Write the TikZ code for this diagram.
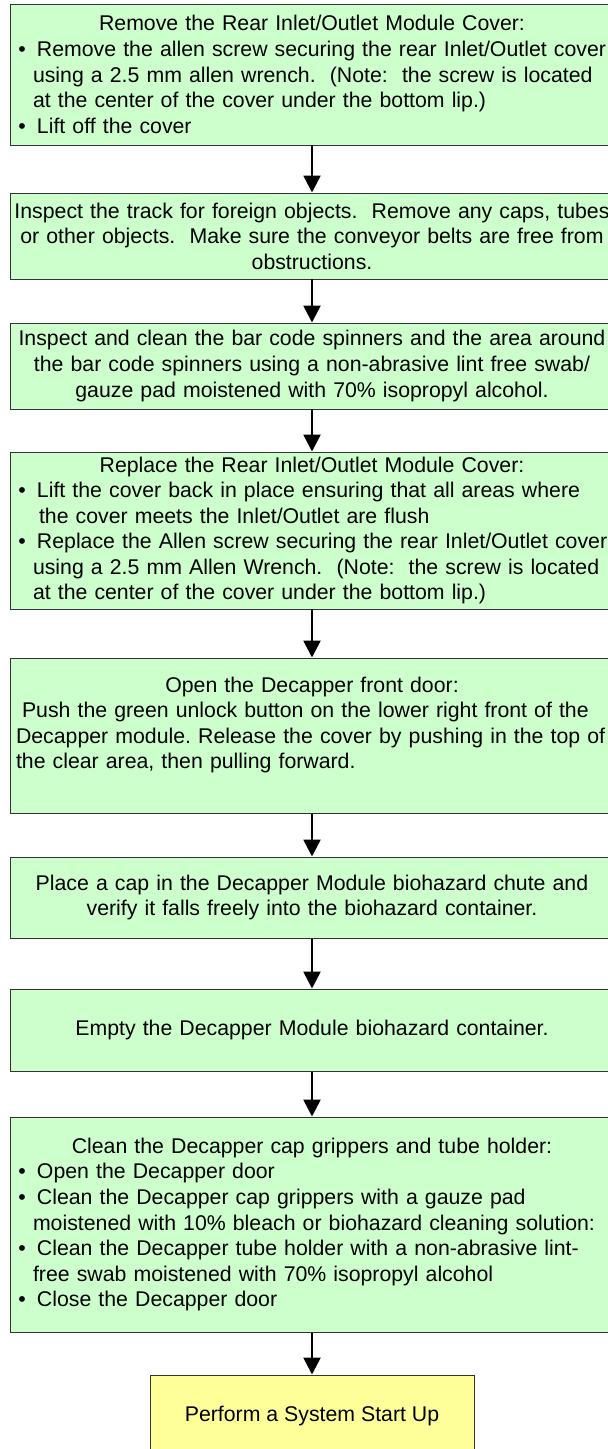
\documentclass[tikz,border=0pt]{standalone}
\usepackage{fontspec}
\setmainfont{Liberation Sans}
\usepackage{xcolor}
\usetikzlibrary{arrows.meta}

\definecolor{stepgreen}{HTML}{CCFFCC}
\definecolor{endyellow}{HTML}{FFFF99}

% one line of a box, set flush left or centred, never broken
\newcommand{\lft}[1]{\makebox[\hsize][l]{#1}}
\newcommand{\ctr}[1]{\makebox[\hsize][c]{#1}}
\newcommand{\bul}[1]{\lft{\makebox[0.525cm][l]{\hspace{0.06cm}\textbullet}#1}}
\newcommand{\cnt}[1]{\lft{\hspace*{0.425cm}#1}}

\tikzset{
  stepbox/.style={draw=black!80, line width=0.7pt, fill=stepgreen, text width=14.8cm,
    inner xsep=0.15cm, inner ysep=0pt, align=center,
    font=\fontsize{15.14}{18.2}\selectfont\frenchspacing},
  endbox/.style={draw=black!80, line width=0.7pt, fill=endyellow, minimum width=8.1cm,
    minimum height=2.05cm, align=center, font=\fontsize{15.14}{18.2}\selectfont},
  flowarrow/.style={-{Triangle[width=0.42cm,length=0.42cm]}, line width=1.8pt}
}

\begin{document}
\begin{tikzpicture}

\useasboundingbox (0cm,0cm) rectangle (15.175cm,-36.225cm);

\node [stepbox, minimum height=3.525cm] (s1) at (7.8cm,-1.8625cm) {\ctr{Remove the Rear Inlet/Outlet Module Cover:}\\
\bul{Remove the allen screw securing the rear Inlet/Outlet cover}\\
\cnt{using a 2.5 mm allen wrench.\ \ (Note:\ \ the screw is located}\\
\cnt{at the center of the cover under the bottom lip.)}\\
\bul{Lift off the cover}};

\node [stepbox, minimum height=2.15cm] (s2) at (7.8cm,-5.9cm) {\ctr{Inspect the track for foreign objects.\ \ Remove any caps, tubes}\\
\ctr{or other objects.\ \ Make sure the conveyor belts are free from}\\
\ctr{obstructions.}};

\node [stepbox, minimum height=2.15cm] (s3) at (7.8cm,-9.15cm) {\ctr{Inspect and clean the bar code spinners and the area around}\\
\ctr{the bar code spinners using a non-abrasive lint free swab/}\\
\ctr{gauze pad moistened with 70\% isopropyl alcohol.}};

\node [stepbox, minimum height=3.925cm] (s4) at (7.8cm,-13.2625cm) {\ctr{Replace the Rear Inlet/Outlet Module Cover:}\\
\bul{Lift the cover back in place ensuring that all areas where}\\
\lft{\hspace*{0.575cm}the cover meets the Inlet/Outlet are flush}\\
\bul{Replace the Allen screw securing the rear Inlet/Outlet cover}\\
\cnt{using a 2.5 mm Allen Wrench.\ \ (Note:\ \ the screw is located}\\
\cnt{at the center of the cover under the bottom lip.)}};

\node [stepbox, minimum height=3.875cm] (s5) at (7.8cm,-18.3875cm) {\ctr{Open the Decapper front door:}\\
\lft{\hspace*{0.15cm}Push the green unlock button on the lower right front of the}\\
\lft{Decapper module. Release the cover by pushing in the top of}\\
\lft{the clear area, then pulling forward.}\\
\mbox{}};

\node [stepbox, minimum height=2.025cm] (s6) at (7.8cm,-22.4375cm) {\ctr{Place a cap in the Decapper Module biohazard chute and}\\
\ctr{verify it falls freely into the biohazard container.}};

\node [stepbox, minimum height=2.05cm] (s7) at (7.8cm,-25.75cm) {\ctr{Empty the Decapper Module biohazard container.}};

\node [stepbox, minimum height=5.375cm] (s8) at (7.8cm,-30.6125cm) {\ctr{Clean the Decapper cap grippers and tube holder:}\\
\bul{Open the Decapper door}\\
\bul{Clean the Decapper cap grippers with a gauze pad}\\
\cnt{moistened with 10\% bleach or biohazard cleaning solution:}\\
\bul{Clean the Decapper tube holder with a non-abrasive lint-}\\
\cnt{free swab moistened with 70\% isopropyl alcohol}\\
\bul{Close the Decapper door}};

\node [endbox] (s9) at (7.8cm,-35.4cm) {Perform a System Start Up};

\draw [flowarrow] (s1) -- (s2);
\draw [flowarrow] (s2) -- (s3);
\draw [flowarrow] (s3) -- (s4);
\draw [flowarrow] (s4) -- (s5);
\draw [flowarrow] (s5) -- (s6);
\draw [flowarrow] (s6) -- (s7);
\draw [flowarrow] (s7) -- (s8);
\draw [flowarrow] (s8) -- (s9);

\end{tikzpicture}
\end{document}
